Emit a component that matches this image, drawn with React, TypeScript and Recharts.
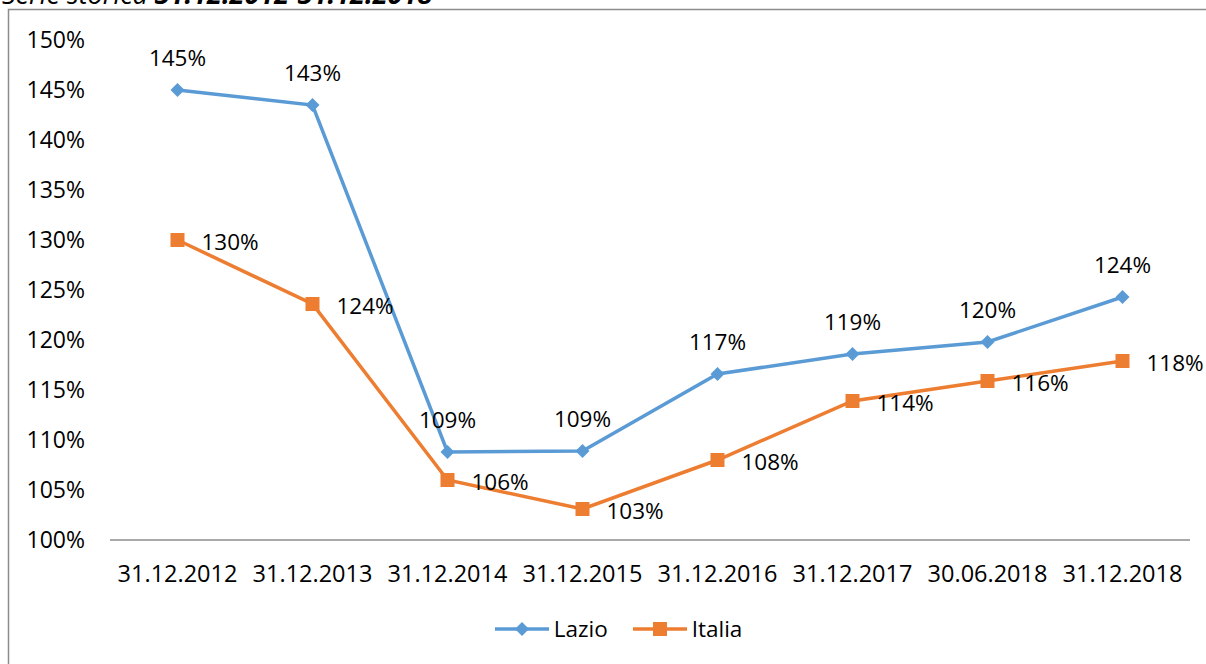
import React from 'react';
import { LineChart, Line, XAxis, YAxis } from 'recharts';

// categories and series values (percentages)
const dates = [
  '31.12.2012', '31.12.2013', '31.12.2014', '31.12.2015',
  '31.12.2016', '31.12.2017', '30.06.2018', '31.12.2018',
];
const lazio = [145, 143.5, 108.8, 108.9, 116.6, 118.6, 119.8, 124.3];
const italia = [130, 123.6, 106, 103.1, 108, 113.9, 115.9, 117.9];
const lazioLabels = ['145%', '143%', '109%', '109%', '117%', '119%', '120%', '124%'];
const italiaLabels = ['130%', '124%', '106%', '103%', '108%', '114%', '116%', '118%'];
const yTicks = [100, 105, 110, 115, 120, 125, 130, 135, 140, 145, 150];
const seriesNames = ['Lazio', 'Italia'];

const BLUE = '#5B9BD5';
const ORANGE = '#ED7D31';
const FONT = '"Open Sans", sans-serif';

const data = dates.map((d, i) => ({
  date: d, lazio: lazio[i], italia: italia[i],
}));

const Diamond = (props: any) => {
  const { cx, cy } = props;
  if (cx == null || cy == null) return null;
  const r = 7;
  return <path d={`M${cx},${cy - r}L${cx + r},${cy}L${cx},${cy + r}L${cx - r},${cy}Z`} fill={BLUE} />;
};

const Square = (props: any) => {
  const { cx, cy } = props;
  if (cx == null || cy == null) return null;
  return <rect x={cx - 7} y={cy - 7} width={14} height={14} fill={ORANGE} />;
};

const LazioLabel = (props: any) => {
  const { x, y, index } = props;
  return (
    <text x={x} y={y - 33} textAnchor="middle" dominantBaseline="central"
      fontFamily={FONT} fontSize={22.5} fill="#000">
      {lazioLabels[index]}
    </text>
  );
};

const ItaliaLabel = (props: any) => {
  const { x, y, index } = props;
  return (
    <text x={x + 24} y={y + 1} textAnchor="start" dominantBaseline="central"
      fontFamily={FONT} fontSize={22.5} fill="#000">
      {italiaLabels[index]}
    </text>
  );
};

export default function App() {
  return (
    <div style={{ position: 'fixed', left: 0, top: 0, width: 1206, height: 664, overflow: 'hidden', background: '#fff' }}>
      <svg width={1206} height={664} style={{ position: 'absolute', left: 0, top: 0 }}>
        <text x={2} y={4} fontFamily={FONT} fontSize={27} fontStyle="italic" fill="#000">
          Serie storica <tspan fontWeight="bold">31.12.2012-31.12.2018</tspan>
        </text>
        <rect x={8.5} y={9.5} width={1300} height={800} fill="none" stroke="#8c8c8c" strokeWidth={1.5} />
      </svg>
      <div style={{ position: 'absolute', left: 0, top: 0 }}>
        <LineChart width={1206} height={664} data={data}
          margin={{ top: 40, right: 16, bottom: 0, left: 0 }}>
          <XAxis dataKey="date" height={124} tickLine={false} tickSize={0} tickMargin={25}
            padding={{ left: 67.5, right: 67.5 }}
            axisLine={{ stroke: '#8c8c8c', strokeWidth: 1.5 }} interval={0}
            tick={{ fill: '#000', fontSize: 23.5, fontFamily: FONT }} />
          <YAxis width={110} domain={[100, 150]} ticks={yTicks} axisLine={false} tickLine={false}
            tickSize={0} tickMargin={25} tickFormatter={(v: number) => `${v}%`}
            tick={{ fill: '#000', fontSize: 23, fontFamily: FONT }} />
          <Line dataKey="lazio" stroke={BLUE} strokeWidth={3.5} dot={<Diamond />} activeDot={false}
            label={<LazioLabel />} isAnimationActive={false} />
          <Line dataKey="italia" stroke={ORANGE} strokeWidth={3.5} dot={<Square />} activeDot={false}
            label={<ItaliaLabel />} isAnimationActive={false} />
        </LineChart>
      </div>
      <div style={{ position: 'absolute', left: 0, top: 614, width: 1206, display: 'flex', justifyContent: 'center',
        fontFamily: FONT, fontSize: 22.5, color: '#000', paddingLeft: 30, boxSizing: 'border-box' }}>
        {seriesNames.map((name, i) => (
          <div key={name} style={{ display: 'flex', alignItems: 'center', marginRight: i === 0 ? 24 : 0 }}>
            <svg width={56} height={30}>
              <line x1={1} y1={15} x2={55} y2={15} stroke={i === 0 ? BLUE : ORANGE} strokeWidth={3.5} />
              {i === 0
                ? <path d="M28,8L35,15L28,22L21,15Z" fill={BLUE} />
                : <rect x={21} y={8} width={14} height={14} fill={ORANGE} />}
            </svg>
            <span style={{ marginLeft: 4, lineHeight: '30px' }}>{name}</span>
          </div>
        ))}
      </div>
    </div>
  );
}
